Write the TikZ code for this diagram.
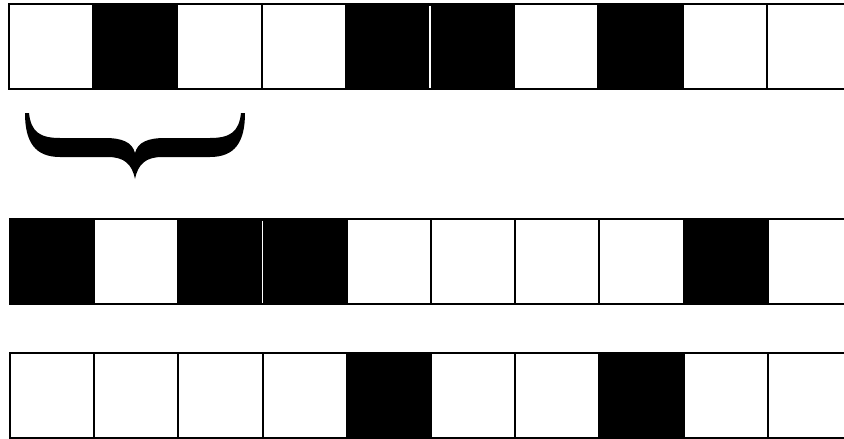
\documentclass[tikz,border=0pt]{standalone}
\begin{document}
\begin{tikzpicture}[x=1pt,y=-1pt,
  cell/.style={draw=black,line width=2pt,minimum width=84.2pt,minimum height=85pt,inner sep=0pt,outer sep=0pt,anchor=north west},
  wcell/.style={cell,fill=white},
  bcell/.style={cell,fill=black},
  sep/.style={draw=white,line width=1.3pt}]
\useasboundingbox (0,0) rectangle (844,439);
% row 1: W B W W B B W B W W
\foreach \c [count=\i from 0] in {w,b,w,w,b,b,w,b,w,w}{
  \node[\c cell] (r1c\i) at (9+84.2*\i,4) {};
}
% row 2: B W B B W W W W B W
\foreach \c [count=\i from 0] in {b,w,b,b,w,w,w,w,b,w}{
  \node[\c cell] (r2c\i) at (10+84.2*\i,219) {};
}
% row 3: W W W W B W W B W W
\foreach \c [count=\i from 0] in {w,w,w,w,b,w,w,b,w,w}{
  \node[\c cell] (r3c\i) at (10+84.2*\i,353) {};
}
% white separators between adjacent black cells
\draw[sep] ([yshift=-1.5pt]r1c4.north east) -- ([yshift=1.5pt]r1c4.south east);
\draw[sep] ([yshift=-1.5pt]r2c2.north east) -- ([yshift=1.5pt]r2c2.south east);
% brace
\fill[black] (25,113) .. controls (25,142) and (35,157) .. (60,157)
  -- (108,157) .. controls (124,157) and (132,164) .. (135,179)
  .. controls (138,164) and (146,157) .. (162,157)
  -- (210,157) .. controls (235,157) and (245,142) .. (245,113)
  -- (241,113) .. controls (239,132) and (230,138) .. (210,138)
  -- (165,138) .. controls (148,138) and (138,142) .. (135,153)
  .. controls (132,142) and (122,138) .. (105,138)
  -- (60,138) .. controls (40,138) and (31,132) .. (29,113) -- cycle;
\end{tikzpicture}
\end{document}
